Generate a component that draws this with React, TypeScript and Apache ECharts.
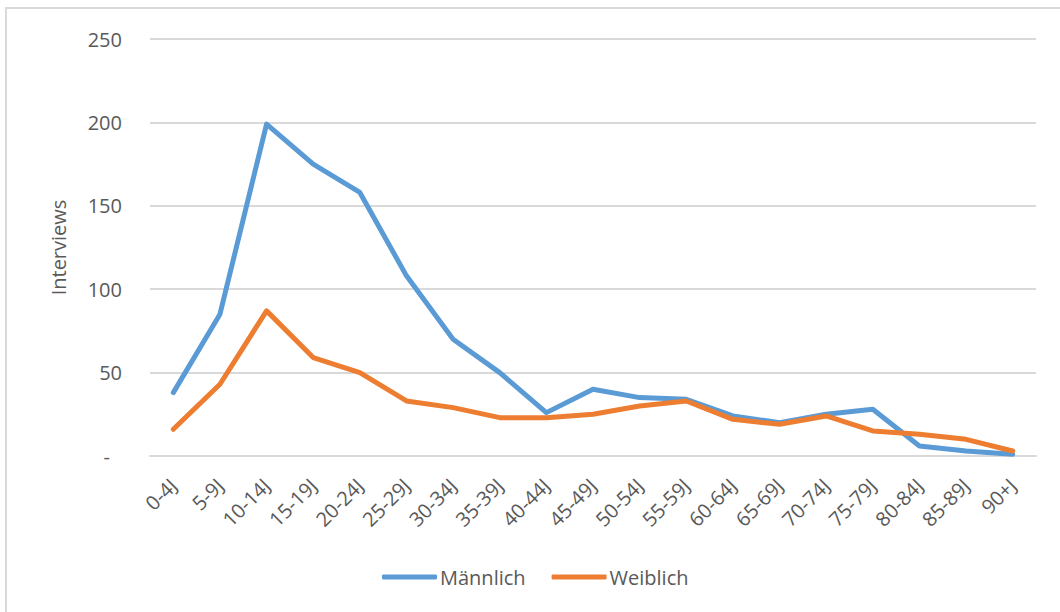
import React, { useEffect, useRef } from "react";
import * as echarts from "echarts";

const categories = ["0-4J", "5-9J", "10-14J", "15-19J", "20-24J", "25-29J", "30-34J", "35-39J", "40-44J", "45-49J", "50-54J", "55-59J", "60-64J", "65-69J", "70-74J", "75-79J", "80-84J", "85-89J", "90+J"];
const maennlich = [38, 85, 199, 175, 158, 108, 70, 50, 26, 40, 35, 34, 24, 20, 25, 28, 6, 3, 1];
const weiblich = [16, 43, 87, 59, 50, 33, 29, 23, 23, 25, 30, 33, 22, 19, 24, 15, 13, 10, 3];
const yTicks = [0, 50, 100, 150, 200, 250];

const FONT = "'Open Sans', sans-serif";
const TEXT = "#595959";

export default function App() {
  const ref = useRef<HTMLDivElement>(null);
  useEffect(() => {
    document.body.style.margin = "0";
    const chart = echarts.init(ref.current!, null, { renderer: "svg" });
    chart.setOption({
      animation: false,
      backgroundColor: "#ffffff",
      textStyle: { fontFamily: FONT },
      graphic: [
        {
          type: "rect",
          shape: { x: 6, y: 8, width: 1200, height: 800 },
          style: { fill: "none", stroke: "#D9D9D9", lineWidth: 2 },
          silent: true,
        },
      ],
      grid: { left: 150, right: 24, top: 39, bottom: 156 },
      xAxis: {
        type: "category",
        data: categories,
        boundaryGap: true,
        axisLine: { lineStyle: { color: "#D9D9D9", width: 2 } },
        axisTick: { show: false },
        axisLabel: {
          rotate: 45,
          interval: 0,
          margin: 26,
          color: TEXT,
          fontSize: 20,
          fontFamily: FONT,
        },
      },
      yAxis: {
        type: "value",
        min: yTicks[0],
        max: yTicks[yTicks.length - 1],
        interval: 50,
        name: "Interviews",
        nameLocation: "middle",
        nameGap: 82,
        nameRotate: 90,
        nameTextStyle: { color: TEXT, fontSize: 20, fontFamily: FONT },
        axisLine: { show: false },
        axisTick: { show: false },
        splitLine: { lineStyle: { color: "#D9D9D9", width: 2 } },
        axisLabel: {
          margin: 28,
          color: TEXT,
          fontSize: 20,
          fontFamily: FONT,
          formatter: (v: number) => (v === 0 ? "{d|-}" : String(v)),
          rich: { d: { color: TEXT, fontSize: 20, fontFamily: FONT, padding: [0, 12, 0, 0] } },
        },
      },
      legend: {
        bottom: 20,
        left: 377,
        icon: "roundRect",
        itemWidth: 55,
        itemHeight: 5,
        itemGap: 26,
        textStyle: { color: TEXT, fontSize: 20, fontFamily: FONT, padding: [0, 0, 0, -2] },
        data: ["Männlich", "Weiblich"],
      },
      series: [
        {
          name: "Männlich",
          type: "line",
          data: maennlich,
          symbol: "none",
          lineStyle: { color: "#5B9BD5", width: 5, cap: "round", join: "round" },
          itemStyle: { color: "#5B9BD5" },
        },
        {
          name: "Weiblich",
          type: "line",
          data: weiblich,
          symbol: "none",
          lineStyle: { color: "#ED7D31", width: 5, cap: "round", join: "round" },
          itemStyle: { color: "#ED7D31" },
        },
      ],
    });
    return () => chart.dispose();
  }, []);
  return <div ref={ref} style={{ width: 1060, height: 612 }} />;
}
